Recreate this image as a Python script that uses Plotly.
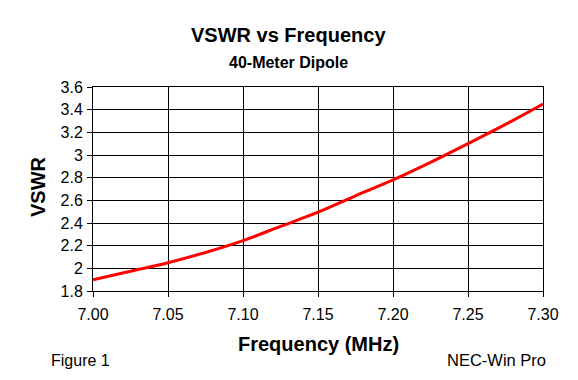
import plotly.graph_objects as go

freq = [7.000, 7.025, 7.050, 7.075, 7.100, 7.125, 7.150, 7.175, 7.200, 7.225, 7.250, 7.275, 7.300]
vswr = [1.90, 1.975, 2.05, 2.14, 2.245, 2.37, 2.495, 2.64, 2.78, 2.935, 3.10, 3.27, 3.45]
x_ticks = [7.00, 7.05, 7.10, 7.15, 7.20, 7.25, 7.30]
x_tick_labels = ["7.00", "7.05", "7.10", "7.15", "7.20", "7.25", "7.30"]
y_ticks = [1.8, 2.0, 2.2, 2.4, 2.6, 2.8, 3.0, 3.2, 3.4, 3.6]
y_tick_labels = ["1.8", "2", "2.2", "2.4", "2.6", "2.8", "3", "3.2", "3.4", "3.6"]

FONT = "Liberation Sans, Arial, sans-serif"
W, H = 578, 380
L, R, T, B = 93, 35, 87, 89
PW, PH = W - L - R, H - T - B


def px(x):
    return (x - L) / PW


def py(y):
    return (H - B - y) / PH


fig = go.Figure()
fig.add_trace(go.Scatter(x=freq, y=vswr, mode="lines",
                         line=dict(color="#ff0000", width=3, shape="spline"),
                         showlegend=False, hoverinfo="skip"))


def ann(text, x, y, size, xanchor="center", angle=0):
    return dict(text=text, x=px(x), y=py(y), xref="paper", yref="paper",
                showarrow=False, xanchor=xanchor, yanchor="middle", textangle=angle,
                font=dict(size=size, family=FONT, color="black"))


fig.update_layout(
    width=W, height=H,
    margin=dict(l=L, r=R, t=T, b=B, autoexpand=False),
    paper_bgcolor="white", plot_bgcolor="white",
    font=dict(family=FONT, color="black", size=16),
    xaxis=dict(range=[7.0, 7.3], tickvals=x_ticks, ticktext=x_tick_labels,
               showgrid=True, gridcolor="black", gridwidth=1,
               showline=True, linecolor="black", linewidth=1, mirror=True,
               ticks="outside", ticklen=5, tickcolor="black", ticklabelstandoff=4,
               tickfont=dict(size=16, family=FONT), zeroline=False),
    yaxis=dict(range=[1.8, 3.6], tickvals=y_ticks, ticktext=y_tick_labels,
               showgrid=True, gridcolor="black", gridwidth=1,
               showline=True, linecolor="black", linewidth=1, mirror=True,
               ticks="outside", ticklen=5, tickcolor="black", ticklabelstandoff=1,
               tickfont=dict(size=16, family=FONT), zeroline=False),
    annotations=[
        ann("<b>VSWR vs Frequency</b>", 288, 35, 20),
        ann("<b>40-Meter Dipole</b>", 288, 62, 16),
        ann("<b>Frequency (MHz)</b>", 318, 344, 20),
        ann("<b>VSWR</b>", 38, 187, 20, angle=-90),
        ann("Figure 1", 49, 360, 16, xanchor="left"),
        ann("NEC-Win Pro", 548, 360, 16.5, xanchor="right"),
    ],
)

fig.write_html("out.html", config={"displayModeBar": False},
               post_script="document.body.style.margin='0';")
